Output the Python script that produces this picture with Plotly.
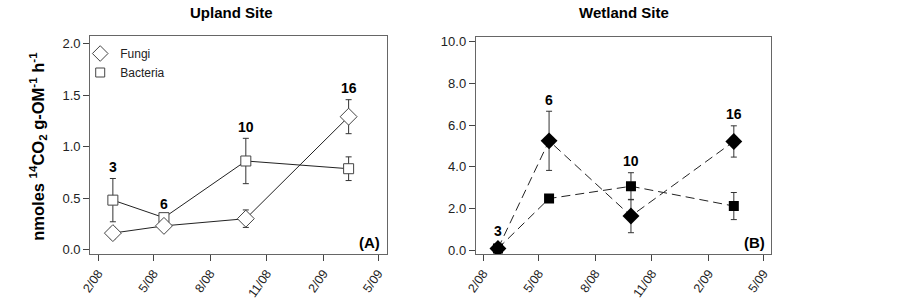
import plotly.graph_objects as go

dates = ["2008-02-25", "2008-05-18", "2008-09-28", "2009-03-14"]
labels = ["3", "6", "10", "16"]

up_fungi = [0.16, 0.23, 0.30, 1.29]
up_fungi_err = [0.055, 0.0, 0.085, 0.165]
up_bact = [0.48, 0.31, 0.86, 0.785]
up_bact_err = [0.21, 0.0, 0.22, 0.115]
up_label_y = [0.80, 0.44, 1.19, 1.57]

wet_fungi = [0.08, 5.25, 1.64, 5.22]
wet_fungi_err = [0.0, 1.42, 0.80, 0.75]
wet_bact = [0.08, 2.48, 3.07, 2.12]
wet_bact_err = [0.0, 0.0, 0.65, 0.65]
wet_label_y = [0.92, 7.2, 4.28, 6.55]

tick_dates = ["2008-02-01", "2008-05-01", "2008-08-01", "2008-11-01", "2009-02-01", "2009-05-01"]
tick_text = ["2/08", "5/08", "8/08", "11/08", "2/09", "5/09"]

LINE = "#222222"
FONT = "Arial, Liberation Sans, sans-serif"

fig = go.Figure()

def err(v):
    return dict(type="data", array=v, visible=True, color="#333333", thickness=1, width=3)

# Upland
fig.add_trace(go.Scatter(x=dates, y=up_bact, mode="lines+markers", xaxis="x", yaxis="y",
                         line=dict(color=LINE, width=1),
                         marker=dict(symbol="square", size=10, color="white", line=dict(color="#444", width=1)),
                         error_y=err(up_bact_err), showlegend=False))
fig.add_trace(go.Scatter(x=dates, y=up_fungi, mode="lines+markers", xaxis="x", yaxis="y",
                         line=dict(color=LINE, width=1),
                         marker=dict(symbol="diamond", size=13, color="white", line=dict(color="#444", width=1)),
                         error_y=err(up_fungi_err), showlegend=False))
# legend-only traces
fig.add_trace(go.Scatter(x=[None], y=[None], mode="markers", name="Fungi", xaxis="x", yaxis="y",
                         marker=dict(symbol="diamond", size=12, color="white", line=dict(color="#444", width=1))))
fig.add_trace(go.Scatter(x=[None], y=[None], mode="markers", name="Bacteria", xaxis="x", yaxis="y",
                         marker=dict(symbol="square", size=9, color="white", line=dict(color="#444", width=1))))

# Wetland
fig.add_trace(go.Scatter(x=dates, y=wet_bact, mode="lines+markers", xaxis="x2", yaxis="y2",
                         line=dict(color=LINE, width=1, dash="9px,5px"),
                         marker=dict(symbol="square", size=10, color="black"),
                         error_y=err(wet_bact_err), showlegend=False))
fig.add_trace(go.Scatter(x=dates, y=wet_fungi, mode="lines+markers", xaxis="x2", yaxis="y2",
                         line=dict(color=LINE, width=1, dash="9px,5px"),
                         marker=dict(symbol="diamond", size=13, color="black"),
                         error_y=err(wet_fungi_err), showlegend=False))

ann = []
for d, t, yv in zip(dates, labels, up_label_y):
    ann.append(dict(x=d, y=yv, xref="x", yref="y", text="<b>%s</b>" % t, showarrow=False,
                    font=dict(size=14, color="black", family=FONT)))
for d, t, yv in zip(dates, labels, wet_label_y):
    ann.append(dict(x=d, y=yv, xref="x2", yref="y2", text="<b>%s</b>" % t, showarrow=False,
                    font=dict(size=14, color="black", family=FONT)))

ann += [
    dict(x=376/902, y=1-246/300, xref="paper", yref="paper", text="<b>(A)</b>", showarrow=False,
         xanchor="right", yanchor="middle", font=dict(size=15, color="black", family=FONT)),
    dict(x=765/902, y=1-246/300, xref="paper", yref="paper", text="<b>(B)</b>", showarrow=False,
         xanchor="right", yanchor="middle", font=dict(size=15, color="black", family=FONT)),
    dict(x=224/902, y=1-10/300, xref="paper", yref="paper", text="<b>Upland Site</b>", showarrow=False,
         xanchor="center", yanchor="middle", font=dict(size=15, color="black", family=FONT)),
    dict(x=621/902, y=1-10/300, xref="paper", yref="paper", text="<b>Wetland Site</b>", showarrow=False,
         xanchor="center", yanchor="middle", font=dict(size=15, color="black", family=FONT)),
    dict(x=28/902, y=1-147/300, xref="paper", yref="paper",
         text="<b>nmoles <sup>14</sup>CO<sub>2</sub> g-OM<sup>-1</sup> h<sup>-1</sup></b>",
         showarrow=False, textangle=-90, xanchor="center", yanchor="middle",
         font=dict(size=16.5, color="black", family=FONT)),
]

axis_common = dict(showline=True, linecolor="#666666", linewidth=1, mirror=True, ticks="outside",
                   ticklen=6, tickcolor="#444444", showgrid=False, zeroline=False)

xfont = dict(size=12.5, color="#222222", family=FONT)
yfont = dict(size=13, color="#222222", family=FONT)

fig.update_layout(
    width=902, height=300, margin=dict(l=0, r=0, t=0, b=0),
    paper_bgcolor="white", plot_bgcolor="white",
    font=dict(family=FONT),
    xaxis=dict(domain=[81/902, 381/902], type="date", range=["2008-01-19", "2009-05-15"],
               tickvals=tick_dates, ticktext=tick_text, tickangle=-55, anchor="y",
               tickfont=xfont, **axis_common),
    yaxis=dict(domain=[1-258/300, 1-33.5/300], range=[-0.044, 2.077],
               tickvals=[0, 0.5, 1.0, 1.5, 2.0], ticktext=["0.0", "0.5", "1.0", "1.5", "2.0"],
               anchor="x", tickfont=yfont, **axis_common),
    xaxis2=dict(domain=[471/902, 769.3/902], type="date", range=["2008-01-20", "2009-05-13"],
                tickvals=tick_dates, ticktext=tick_text, tickangle=-55, anchor="y2",
                tickfont=xfont, **axis_common),
    yaxis2=dict(domain=[1-258/300, 1-35/300], range=[-0.187, 10.23],
                tickvals=[0, 2, 4, 6, 8, 10], ticktext=["0.0", "2.0", "4.0", "6.0", "8.0", "10.0"],
                anchor="x2", tickfont=yfont, **axis_common),
    legend=dict(x=71/902, y=1-37/300, xanchor="left", yanchor="top", bgcolor="rgba(0,0,0,0)",
                font=dict(size=12, color="#222222", family=FONT), itemwidth=30, tracegroupgap=0),
    annotations=ann,
)

fig.write_html("out.html", config={"displayModeBar": False},
               post_script="document.body.style.margin='0';")
